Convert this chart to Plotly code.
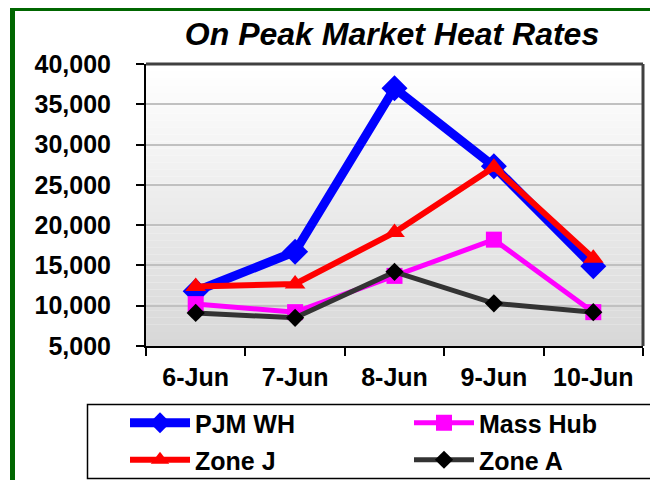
import plotly.graph_objects as go

dates = ["6-Jun", "7-Jun", "8-Jun", "9-Jun", "10-Jun"]
pjm_wh = [11800, 16700, 37000, 27300, 14900]
mass_hub = [10200, 9200, 13700, 18200, 9200]
zone_j = [12400, 12700, 19100, 27200, 15900]
zone_a = [9100, 8500, 14200, 10300, 9200]

FONT = "Liberation Sans, Arial, sans-serif"
# page body has an 8px margin, so the figure is offset by 8px
W, H = 650, 472
L, R, T, B = 138, 635, 56, 338

def px(x):
    return (x - L) / (R - L)

def py(y):
    return (B - y) / (B - T)

fig = go.Figure()
fig.add_trace(go.Scatter(x=dates, y=pjm_wh, name="PJM WH", mode="lines+markers",
                         line=dict(color="#0000ff", width=9),
                         marker=dict(symbol="diamond", size=20, color="#0000ff"),
                         legend="legend"))
fig.add_trace(go.Scatter(x=dates, y=mass_hub, name="Mass Hub", mode="lines+markers",
                         line=dict(color="#ff00ff", width=5),
                         marker=dict(symbol="square", size=16, color="#ff00ff"),
                         legend="legend2"))
fig.add_trace(go.Scatter(x=dates, y=zone_j, name="Zone J", mode="lines+markers",
                         line=dict(color="#ff0000", width=6),
                         marker=dict(symbol="triangle-up", size=18, color="#ff0000"),
                         legend="legend3"))
fig.add_trace(go.Scatter(x=dates, y=zone_a, name="Zone A", mode="lines+markers",
                         line=dict(color="#333333", width=5),
                         marker=dict(symbol="diamond", size=14, color="#000000"),
                         legend="legend4"))

shapes = []
n = 40
for i in range(n):
    t = (i + 0.5) / n
    c = int(round(255 - (255 - 216) * t))
    shapes.append(dict(type="rect", xref="paper", yref="paper", layer="below",
                       x0=0, x1=1, y0=1 - (i + 1) / n, y1=1 - i / n,
                       fillcolor=f"rgb({c},{c},{c})", line=dict(width=0)))
shapes.append(dict(type="line", xref="paper", yref="paper", x0=0, x1=1, y0=1, y1=1,
                   line=dict(color="#404040", width=3)))
shapes.append(dict(type="line", xref="paper", yref="paper", x0=1, x1=1, y0=0, y1=1,
                   line=dict(color="#404040", width=3)))
# green frame
shapes.append(dict(type="rect", xref="paper", yref="paper",
                   x0=px(4.5), x1=px(720), y0=py(0.5), y1=py(560),
                   line=dict(color="#006600", width=5), fillcolor="rgba(0,0,0,0)"))
# legend frame
shapes.append(dict(type="rect", xref="paper", yref="paper",
                   x0=px(79.5), x1=px(649.5), y0=py(396.5), y1=py(470.5),
                   line=dict(color="black", width=1.5), fillcolor="white"))

leg_font = dict(family=FONT, size=25, color="black", weight="bold")

def leg(x, y):
    return dict(x=px(x), y=py(y), xanchor="left", yanchor="middle",
                bgcolor="rgba(0,0,0,0)", borderwidth=0, font=leg_font,
                itemwidth=60, orientation="v")

fig.update_layout(
    width=W, height=H,
    margin=dict(l=L, r=W - R, t=T, b=H - B, autoexpand=False),
    paper_bgcolor="white",
    plot_bgcolor="rgba(0,0,0,0)",
    font=dict(family=FONT, size=24, color="black"),
    title=dict(text="On Peak Market Heat Rates", x=px(384), xref="paper", xanchor="center",
               y=1 - 26 / H, yref="container", yanchor="middle",
               font=dict(family=FONT, size=32, color="black", weight="bold", style="italic")),
    shapes=shapes,
    showlegend=True,
    legend=leg(117, 415),
    legend2=leg(401, 415),
    legend3=leg(117, 452),
    legend4=leg(401, 452),
)
tick_font = dict(family=FONT, size=25, color="black", weight="bold")
fig.update_xaxes(type="category", tickson="boundaries", ticks="outside", ticklen=8,
                 tickwidth=2, tickcolor="black", showline=True, linecolor="black",
                 linewidth=2, showgrid=False, range=[-0.5, 4.5],
                 ticklabelstandoff=8, tickfont=tick_font)
fig.update_yaxes(range=[5000, 40000], dtick=5000, tickformat=",d", ticks="outside",
                 ticklen=8, tickwidth=2, tickcolor="black", showline=True,
                 linecolor="black", linewidth=2, gridcolor="#c0c0c0", gridwidth=1.5,
                 zeroline=False, ticklabelstandoff=20, tickfont=tick_font)

fig.write_html("out.html")
